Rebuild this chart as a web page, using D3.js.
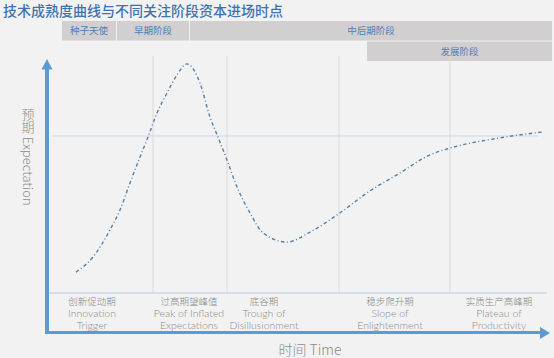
<!DOCTYPE html>
<html>
<head>
<meta charset="utf-8">
<script src="https://cdn.jsdelivr.net/npm/d3@7/dist/d3.min.js"></script>
<style>
  html, body { margin: 0; padding: 0; background: #f2f2f2; }
  svg { display: block; }
</style>
</head>
<body>
<svg id="chart" width="554" height="358"></svg>
<script>
// ---------- data ----------
const title = "技术成熟度曲线与不同关注阶段资本进场时点";

// hype curve (time, expectation) in arbitrary units 0-100
const curveTime = [5.8, 9.2, 12.6, 14.6, 16.6, 18.6, 20.2, 22, 24, 26, 28, 30.6, 32.6, 34.2, 36, 38, 40.6, 43.2, 48, 52.6, 58.6, 64, 70.6, 76.6, 80.6, 90.6, 99.2];
const curveExpectation = [22.2, 27.8, 37.8, 45.2, 55.2, 64.8, 72.2, 81.1, 88.5, 95.2, 99.3, 92.2, 79.6, 72.2, 63.7, 53.7, 44.1, 36.7, 33.3, 37, 44.1, 51.5, 58.9, 65.6, 68.1, 71.9, 74.1];

// phase boundaries and labels
const phaseBoundaries = [21.2, 36, 58.4, 80.6];
const phaseCenters = [9, 28.4, 43.4, 68.6, 90.4];
const phaseNamesCN = ["创新促动期", "过高期望峰值", "底谷期", "稳步爬升期", "实质生产高峰期"];
const phaseNamesEN1 = ["Innovation", "Peak of Inflated", "Trough of", "Slope of", "Plateau of"];
const phaseNamesEN2 = ["Trigger", "Expectations", "Disillusionment", "Enlightenment", "Productivity"];

// plateau reference level
const plateauLevel = 72.6;

// capital stages (time ranges, row)
const stageNames = ["种子天使", "早期阶段", "中后期阶段", "发展阶段"];
const stageStart = [3, 14, 28.6, 64];
const stageEnd = [13.8, 28.4, 101, 101];
const stageRow = [0, 0, 0, 1];

const yAxisLabel = "预期 Expectation";
const xAxisLabel = "时间 Time";

// ---------- drawing ----------
const svg = d3.select("#chart");
const W = 554, H = 358;
const x = d3.scaleLinear().domain([0, 100]).range([47, 547]);
const y = d3.scaleLinear().domain([0, 100]).range([332, 62]);
const row = d3.scaleBand().domain([0, 1]).range([21, 61]).paddingInner(0.05);

svg.append("rect").attr("width", W).attr("height", H).attr("fill", "#f2f2f2");

// title
svg.append("text")
  .attr("x", 3).attr("y", 16)
  .attr("font-family", "'Noto Sans CJK SC', sans-serif")
  .attr("font-size", 14).attr("font-weight", 500)
  .attr("fill", "#3f72af")
  .text(title);

// stage bars
const stages = stageNames.map((n, i) => ({ name: n, s: stageStart[i], e: stageEnd[i], r: stageRow[i] }));
const sg = svg.append("g").selectAll("g").data(stages).join("g");
sg.append("rect")
  .attr("x", d => x(d.s)).attr("width", d => Math.min(x(d.e), 552) - x(d.s))
  .attr("y", d => row(d.r)).attr("height", row.bandwidth())
  .attr("fill", "#d1cfd0");
sg.append("text")
  .attr("x", d => (x(d.s) + Math.min(x(d.e), 552)) / 2)
  .attr("y", d => row(d.r) + row.bandwidth() / 2 + 3.5)
  .attr("text-anchor", "middle")
  .attr("font-family", "'Noto Sans CJK SC', sans-serif")
  .attr("font-size", 9.5).attr("fill", "#4f80b8")
  .text(d => d.name);

// vertical phase gridlines
svg.append("g").selectAll("line").data(phaseBoundaries).join("line")
  .attr("x1", d => x(d)).attr("x2", d => x(d))
  .attr("y1", 56).attr("y2", 293)
  .attr("stroke", "#dadada").attr("stroke-width", 1);

// plateau line
svg.append("line")
  .attr("x1", 52).attr("x2", 538)
  .attr("y1", y(plateauLevel)).attr("y2", y(plateauLevel))
  .attr("stroke", "#cbd8e8").attr("stroke-width", 1);

// label separator line
svg.append("line")
  .attr("x1", 47).attr("x2", 547)
  .attr("y1", 293).attr("y2", 293)
  .attr("stroke", "#b8cde6").attr("stroke-width", 1);

// hype curve
const line = d3.line()
  .x(d => x(d[0])).y(d => y(d[1]))
  .curve(d3.curveMonotoneX);
svg.append("path")
  .datum(curveTime.map((t, i) => [t, curveExpectation[i]]))
  .attr("d", line)
  .attr("fill", "none")
  .attr("stroke", "#5a7fa8")
  .attr("stroke-width", 1.4)
  .attr("stroke-dasharray", "3.5,2.5,1,2.5");

// phase labels
const lf = "Lato, 'Open Sans', sans-serif";
const pl = svg.append("g").selectAll("g").data(phaseCenters).join("g");
pl.append("text").attr("x", d => x(d)).attr("y", 305)
  .attr("text-anchor", "middle").attr("font-family", "'Noto Sans CJK SC', sans-serif")
  .attr("font-size", 9.5).attr("font-weight", 300).attr("fill", "#8a8a8a")
  .text((d, i) => phaseNamesCN[i]);
pl.append("text").attr("x", d => x(d)).attr("y", 317)
  .attr("text-anchor", "middle").attr("font-family", lf)
  .attr("font-size", 10.5).attr("font-weight", 300).attr("fill", "#8a8a8a")
  .text((d, i) => phaseNamesEN1[i]);
pl.append("text").attr("x", d => x(d)).attr("y", 328.5)
  .attr("text-anchor", "middle").attr("font-family", lf)
  .attr("font-size", 10.5).attr("font-weight", 300).attr("fill", "#8a8a8a")
  .text((d, i) => phaseNamesEN2[i]);

// axes
const axisColor = "#5b9bd5";
svg.append("line").attr("x1", 47).attr("x2", 47).attr("y1", 333.5).attr("y2", 68)
  .attr("stroke", axisColor).attr("stroke-width", 4);
svg.append("path").attr("d", "M47,59 L52.5,69.5 L41.5,69.5 Z").attr("fill", axisColor);
svg.append("line").attr("x1", 45).attr("x2", 541).attr("y1", 332.5).attr("y2", 332.5)
  .attr("stroke", axisColor).attr("stroke-width", 3);
svg.append("path").attr("d", "M550,333 L540,327 L540,339 Z").attr("fill", axisColor);

// axis titles
svg.append("text")
  .attr("x", 28).attr("y", 108)
  .attr("style", "writing-mode: vertical-rl; font-family: 'Noto Sans CJK SC', Lato, sans-serif; font-weight: 300; font-size: 13px; fill: #8c8c8c;")
  .text(yAxisLabel);
svg.append("text")
  .attr("x", 310).attr("y", 355)
  .attr("text-anchor", "middle")
  .attr("font-family", "'Noto Sans CJK SC', Lato, sans-serif")
  .attr("font-weight", 300)
  .attr("font-size", 14).attr("fill", "#8c8c8c")
  .text(xAxisLabel);
</script>
</body>
</html>
